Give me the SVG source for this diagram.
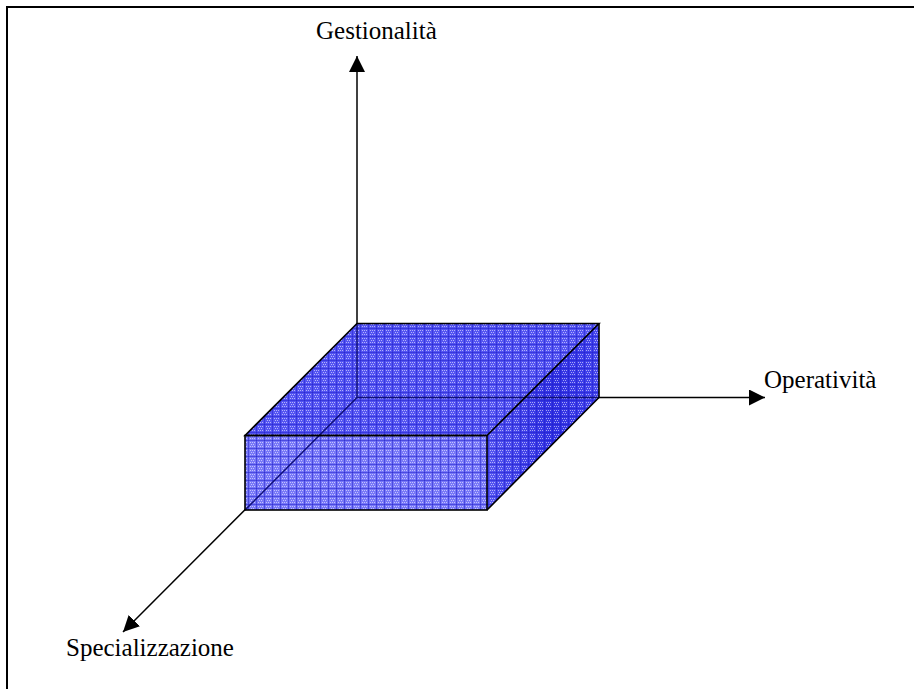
<svg xmlns="http://www.w3.org/2000/svg" width="914" height="689" viewBox="0 0 914 689">
  <defs>
    <style>
      .label { font-family: "Liberation Serif", "Times New Roman", serif; font-size: 25px; fill: #000; }
      .axis { stroke: #000; stroke-width: 1.5; fill: none; }
      .hidden { stroke: #10107a; stroke-width: 1.5; fill: none; }
      .edge { stroke: #000; stroke-width: 1.6; fill: none; stroke-linejoin: miter; }
    </style>
    <pattern id="mesh" width="8" height="8" patternUnits="userSpaceOnUse">
      <rect x="0" y="0" width="8" height="1" fill="#1e1ec8" fill-opacity="0.5"/>
      <rect x="0" y="0" width="1" height="8" fill="#1e1ec8" fill-opacity="0.5"/>
      <rect x="2" y="2" width="1" height="1" fill="#ffffff" fill-opacity="0.55"/>
      <rect x="4" y="2" width="1" height="1" fill="#ffffff" fill-opacity="0.55"/>
      <rect x="6" y="2" width="1" height="1" fill="#ffffff" fill-opacity="0.55"/>
      <rect x="3" y="4" width="1" height="1" fill="#ffffff" fill-opacity="0.55"/>
      <rect x="5" y="4" width="1" height="1" fill="#ffffff" fill-opacity="0.55"/>
      <rect x="2" y="6" width="1" height="1" fill="#ffffff" fill-opacity="0.55"/>
      <rect x="4" y="6" width="1" height="1" fill="#ffffff" fill-opacity="0.55"/>
      <rect x="6" y="6" width="1" height="1" fill="#ffffff" fill-opacity="0.55"/>
    </pattern>
    <linearGradient id="sideGrad" x1="487" y1="0" x2="599" y2="0" gradientUnits="userSpaceOnUse">
      <stop offset="0" stop-color="#5656f2"/>
      <stop offset="0.6" stop-color="#3030e2"/>
      <stop offset="1" stop-color="#4646ee"/>
    </linearGradient>
    <marker id="arrow" viewBox="0 0 16 16" refX="16" refY="8" markerWidth="16" markerHeight="16" markerUnits="userSpaceOnUse" orient="auto">
      <path d="M0,0 L16,8 L0,16 Z" fill="#000"/>
    </marker>
  </defs>

  <rect x="0" y="0" width="914" height="689" fill="#ffffff"/>
  <path d="M7,689 V7 H914" stroke="#000" stroke-width="2" fill="none"/>

  <g id="connectors">
    <line class="axis" x1="357" y1="397.5" x2="357" y2="56" marker-end="url(#arrow)"/>
    <line class="axis" x1="357" y1="397.5" x2="765" y2="397.5" marker-end="url(#arrow)"/>
    <line class="axis" x1="357" y1="397.5" x2="123" y2="632" marker-end="url(#arrow)"/>
  </g>

  <g id="box">
    <polygon points="245,435.5 357,323.5 599,323.5 487,435.5" fill="#5454f2"/>
    <polygon points="245,435.5 357,323.5 599,323.5 487,435.5" fill="url(#mesh)"/>
    <polygon points="487,435.5 599,323.5 599,397.5 487,510" fill="url(#sideGrad)"/>
    <polygon points="487,435.5 599,323.5 599,397.5 487,510" fill="url(#mesh)"/>
    <rect x="245" y="435.5" width="242" height="74.5" fill="#7878f8"/>
    <rect x="245" y="435.5" width="242" height="74.5" fill="url(#mesh)"/>
    <path class="hidden" d="M357,323.5 V397.5 H599 M357,397.5 L245,510"/>
    <polygon class="edge" points="245,435.5 357,323.5 599,323.5 487,435.5"/>
    <polyline class="edge" points="599,323.5 599,397.5 487,510"/>
    <rect class="edge" x="245" y="435.5" width="242" height="74.5"/>
  </g>

  <g id="label-gestionalita">
    <text class="label" x="316" y="39">Gestionalità</text>
  </g>
  <g id="label-operativita">
    <text class="label" x="764" y="388">Operatività</text>
  </g>
  <g id="label-specializzazione">
    <text class="label" x="66" y="656">Specializzazione</text>
  </g>
</svg>
